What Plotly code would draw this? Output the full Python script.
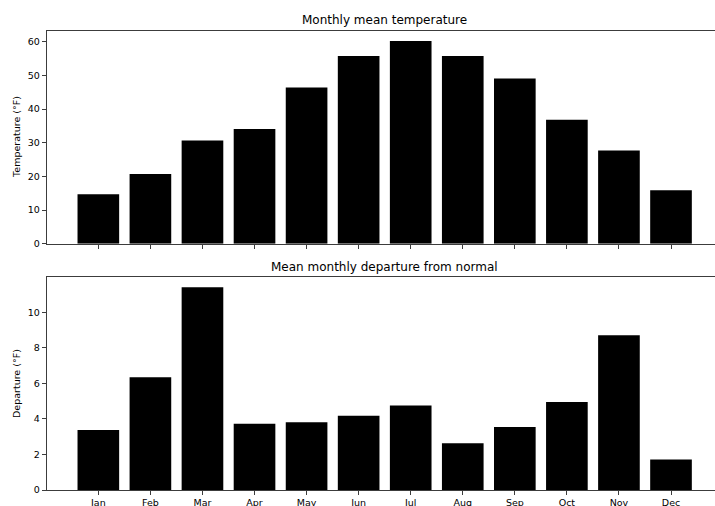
import plotly.graph_objects as go

months = ["Jan", "Feb", "Mar", "Apr", "May", "Jun", "Jul", "Aug", "Sep", "Oct", "Nov", "Dec"]
mean_temp = [14.7, 20.7, 30.7, 34.1, 46.4, 55.8, 60.2, 55.8, 49.1, 36.8, 27.7, 15.9]
departure = [3.38, 6.34, 11.41, 3.73, 3.81, 4.17, 4.75, 2.63, 3.55, 4.95, 8.71, 1.71]

W, H = 715, 506
FONT = "DejaVu Sans"
SPINE = "#3c3c3c"

fig = go.Figure()
fig.add_trace(go.Bar(x=months, y=mean_temp, width=0.8, marker=dict(color="black", line=dict(width=0)),
                     xaxis="x", yaxis="y", showlegend=False))
fig.add_trace(go.Bar(x=months, y=departure, width=0.8, marker=dict(color="black", line=dict(width=0)),
                     xaxis="x2", yaxis="y2", showlegend=False))

x_left = 46.8 / W
top_dom = [1 - 243.7 / H, 1 - 31 / H]
bot_dom = [1 - 490 / H, 1 - 277 / H]

common_x = dict(type="category", range=[-0.99, 11.845], showline=True, linecolor=SPINE, linewidth=1,
                mirror=True, ticks="outside", ticklen=4, tickcolor=SPINE, tickwidth=1,
                showgrid=False, zeroline=False, domain=[x_left, 1.0], automargin=False,
                tickfont=dict(family=FONT, size=9.5, color="black"))
common_y = dict(showline=True, linecolor=SPINE, linewidth=1, ticks="outside", ticklen=4,
                tickcolor=SPINE, tickwidth=1, showgrid=False, zeroline=False, automargin=False,
                tickfont=dict(family=FONT, size=9.5, color="black"))

fig.update_layout(
    width=W, height=H, margin=dict(l=0, r=0, t=0, b=0, autoexpand=False),
    plot_bgcolor="white", paper_bgcolor="white",
    bargap=0.2,
    xaxis=dict(common_x, anchor="y", showticklabels=False),
    yaxis=dict(common_y, anchor="x", domain=top_dom, range=[0, 63.2], tickvals=[0, 10, 20, 30, 40, 50, 60]),
    xaxis2=dict(common_x, anchor="y2"),
    yaxis2=dict(common_y, anchor="x2", domain=bot_dom, range=[0, 11.98], tickvals=[0, 2, 4, 6, 8, 10]),
)

cx = (46.8 + 722.5) / 2 / W
ann = [
    dict(text="Monthly mean temperature", x=cx, y=1 - 20.5 / H, size=12, angle=0),
    dict(text="Mean monthly departure from normal", x=cx, y=1 - 267 / H, size=12, angle=0),
    dict(text="Temperature (°F)", x=16.5 / W, y=1 - 137.4 / H, size=9.5, angle=-90),
    dict(text="Departure (°F)", x=16.5 / W, y=1 - 383.5 / H, size=9.5, angle=-90),
]
for a in ann:
    fig.add_annotation(text=a["text"], x=a["x"], y=a["y"], xref="paper", yref="paper",
                       xanchor="center", yanchor="middle", showarrow=False, textangle=a["angle"],
                       font=dict(family=FONT, size=a["size"], color="black"))

fig.write_html("out.html", config={"displayModeBar": False},
               post_script="document.body.style.margin='0';document.body.style.overflow='hidden';")
